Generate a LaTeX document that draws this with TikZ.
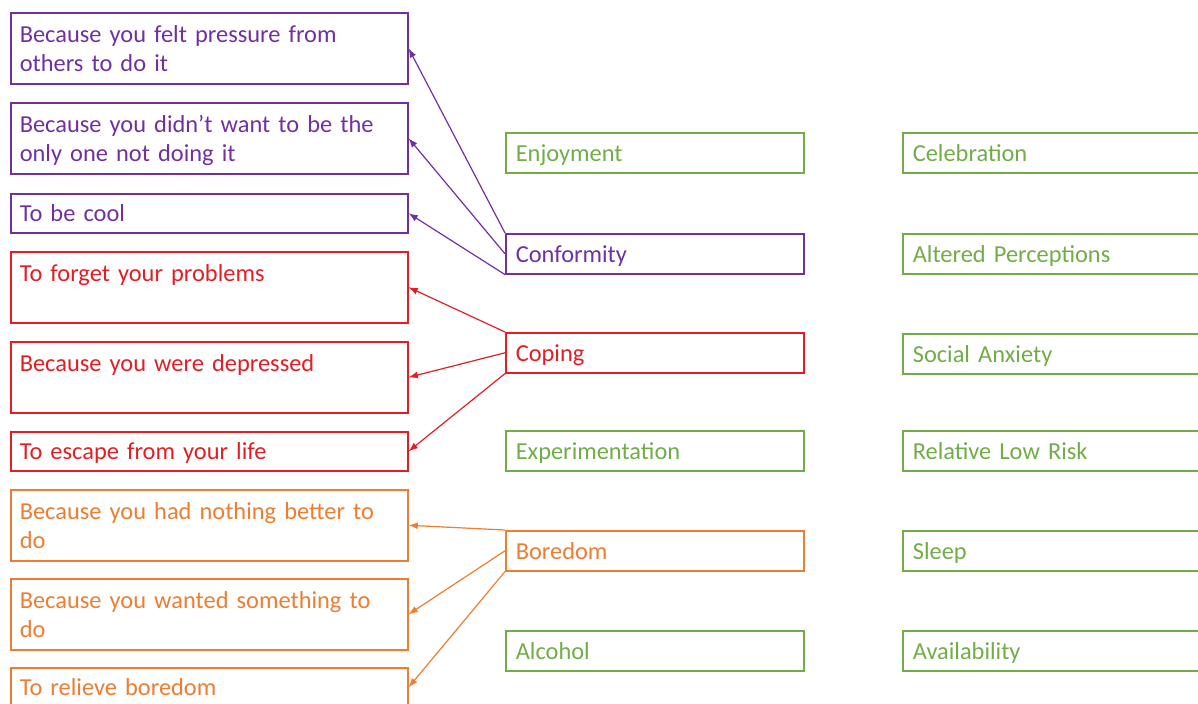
\documentclass[tikz,border=0pt]{standalone}
\usepackage{fontspec}
\setmainfont{Carlito}
\usepackage{tikz}
\usetikzlibrary{arrows}
\definecolor{confpurple}{RGB}{112,48,160}
\definecolor{copered}{RGB}{226,30,36}
\definecolor{boreorange}{RGB}{237,125,49}
\definecolor{motivegreen}{RGB}{112,173,71}
\begin{document}
\begin{tikzpicture}[x=0.5pt, y=-0.5pt, >=latex, font=\fontsize{12.2}{14.5}\selectfont,
  reason/.style={draw, line width=0.8pt, anchor=north west, align=left, text width=189.5pt, inner xsep=4.5pt, inner ysep=0pt},
  tall/.style={minimum height=35.5pt, text height=14.9pt, text depth=20.6pt},
  short/.style={minimum height=19.5pt, text height=9pt, text depth=1pt},
  motive/.style={draw, line width=0.8pt, anchor=north west, align=left, text width=139pt, inner xsep=5pt, inner ysep=0pt, minimum height=20pt, text height=9pt, text depth=0.2pt},
  link/.style={->, line width=0.6pt}]
\useasboundingbox (0,0) rectangle (1198,704);
\clip (0,0) rectangle (1198,704);
\node[reason, tall, confpurple](pressure) at (10,12) {Because you felt pressure from\\others to do it};
\node[reason, tall, confpurple](onlyone) at (10,102) {Because you didn’t want to be the\\only one not doing it};
\node[reason, short, confpurple](cool) at (10,193) {To be cool};
\node[reason, tall, copered](forget) at (10,251) {To forget your problems};
\node[reason, tall, copered](depressed) at (10,341) {Because you were depressed};
\node[reason, short, copered](escape) at (10,431) {To escape from your life};
\node[reason, tall, boreorange](nothing) at (10,489) {Because you had nothing better to\\do};
\node[reason, tall, boreorange](something) at (10,578) {Because you wanted something to\\do};
\node[reason, short, boreorange](relieve) at (10,667) {To relieve boredom};
%
\node[motive, motivegreen](enjoy) at (505,132) {Enjoyment};
\node[motive, confpurple](conform) at (505,233) {Conformity};
\node[motive, copered](coping) at (505,332) {Coping};
\node[motive, motivegreen](experiment) at (505,430) {Experimentation};
\node[motive, boreorange](boredom) at (505,530) {Boredom};
\node[motive, motivegreen](alcohol) at (505,630) {Alcohol};
%
\node[motive, motivegreen, text width=141pt](celeb) at (902,132) {Celebration};
\node[motive, motivegreen, text width=141pt](altered) at (902,233) {Altered Perceptions};
\node[motive, motivegreen, text width=141pt](social) at (902,333) {Social Anxiety};
\node[motive, motivegreen, text width=141pt](lowrisk) at (902,430) {Relative Low Risk};
\node[motive, motivegreen, text width=141pt](sleep) at (902,530) {Sleep};
\node[motive, motivegreen, text width=141pt](avail) at (902,630) {Availability};
%
\draw[link, confpurple](conform.north west) -- (pressure.east);
\draw[link, confpurple](conform.west) -- (onlyone.east);
\draw[link, confpurple](conform.south west) -- (cool.east);
\draw[link, copered](coping.north west) -- (forget.east);
\draw[link, copered](coping.west) -- (depressed.east);
\draw[link, copered](coping.south west) -- (escape.east);
\draw[link, boreorange](boredom.north west) -- (nothing.east);
\draw[link, boreorange](boredom.west) -- (something.east);
\draw[link, boreorange](boredom.south west) -- (relieve.east);
\end{tikzpicture}
\end{document}
